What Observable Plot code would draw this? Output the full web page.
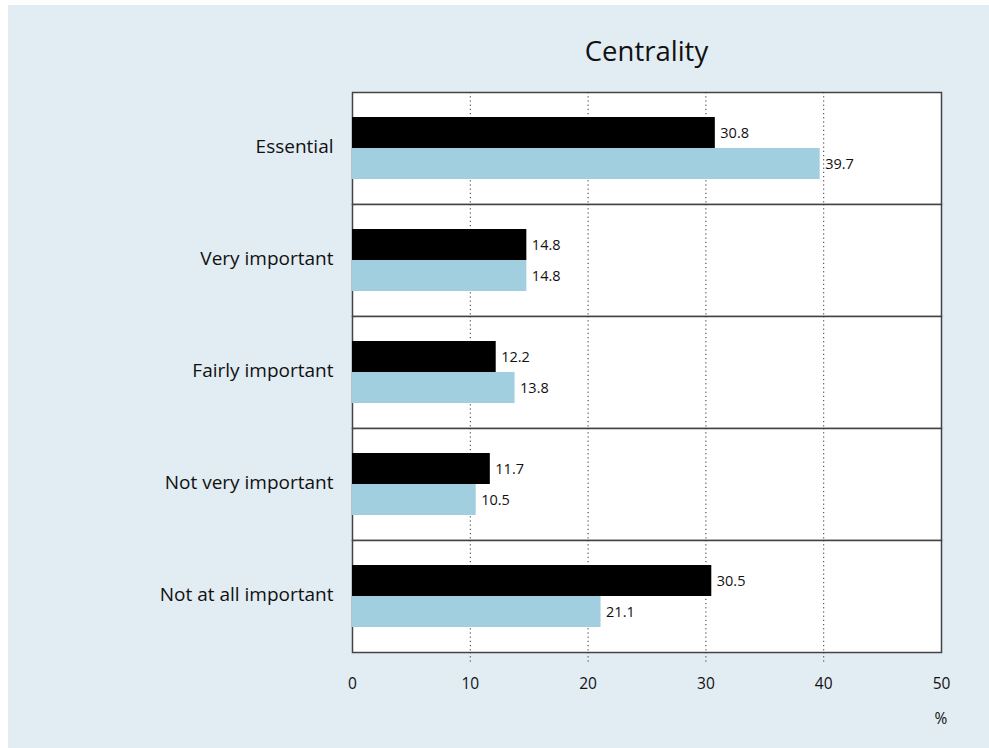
<!DOCTYPE html>
<html>
<head>
<meta charset="utf-8">
<script src="https://cdn.jsdelivr.net/npm/d3@7"></script>
<script src="https://cdn.jsdelivr.net/npm/@observablehq/plot@0.6"></script>
<style>
  html, body { margin: 0; padding: 0; background: #ffffff; }
  #bg { position: absolute; left: 8px; top: 5px; width: 981px; height: 743px; background: #e1ecf3; font-family: "Open Sans", "Noto Sans", sans-serif; }
  #title { position: absolute; left: 344px; width: 589px; top: 27px; text-align: center; font-size: 27.5px; color: #111; }
  #unit { position: absolute; left: 913px; width: 40px; top: 702px; text-align: center; font-size: 15.5px; color: #111; }
  #chart { position: absolute; left: 0; top: 0; }
</style>
</head>
<body>
<div id="bg">
  <div id="chart"></div>
  <div id="title">Centrality</div>
  <div id="unit">%</div>
</div>
<script>
const categories = ["Essential", "Very important", "Fairly important", "Not very important", "Not at all important"];
const seriesNames = ["Series 1", "Series 2"];
const series1 = [30.8, 14.8, 12.2, 11.7, 30.5];
const series2 = [39.7, 14.8, 13.8, 10.5, 21.1];
const xTicks = [0, 10, 20, 30, 40, 50];
const gridTicks = [10, 20, 30, 40];
const colors = ["#000000", "#a2cfdf"];

const data = [];
categories.forEach((c, i) => {
  data.push({category: c, series: seriesNames[0], value: series1[i]});
  data.push({category: c, series: seriesNames[1], value: series2[i]});
});

const chart = Plot.plot({
  width: 981,
  height: 743,
  marginLeft: 344,
  marginRight: 48,
  marginTop: 86,
  marginBottom: 95,
  style: {background: "transparent", fontFamily: "'Open Sans', 'Noto Sans', sans-serif", color: "#111"},
  x: {domain: [0, 50], axis: null},
  y: {domain: seriesNames, paddingInner: 0, paddingOuter: 0.8, axis: null},
  fy: {domain: categories, padding: 0, axis: null},
  color: {domain: seriesNames, range: colors},
  marks: [
    Plot.frame({fill: "white", stroke: "#444", strokeWidth: 1.5}),
    Plot.ruleX(gridTicks, {stroke: "#333", strokeDasharray: "1.2,3"}),
    Plot.barX(data, {x: "value", y: "series", fy: "category", fill: "series"}),
    Plot.text(data, {x: "value", y: "series", fy: "category", text: d => d.value.toFixed(1), textAnchor: "start", dx: 5, fontSize: 14.5, fill: "#111"}),
    Plot.axisFy({anchor: "left", tickSize: 0, tickPadding: 19, fontSize: 19, dy: -2, label: null}),
    Plot.axisX(gridTicks, {anchor: "bottom", tickSize: 12, tickFormat: () => "", stroke: "#333", strokeDasharray: "1.2,3", label: null}),
    Plot.axisX(xTicks, {anchor: "bottom", tickSize: 0, tickPadding: 25, fontSize: 15.5, label: null})
  ]
});
document.getElementById("chart").appendChild(chart);
</script>
</body>
</html>
